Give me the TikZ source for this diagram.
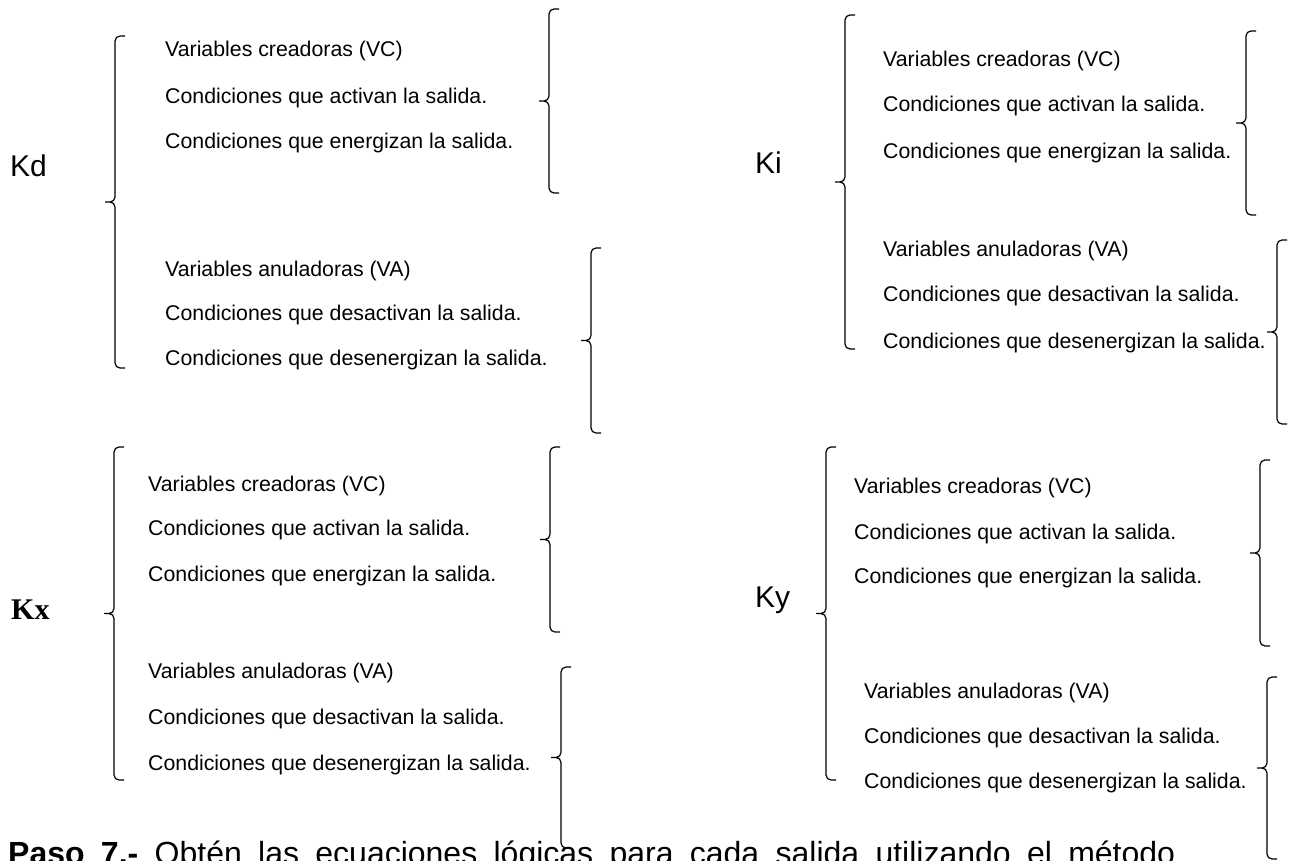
\documentclass[tikz,border=0pt]{standalone}
\usepackage{fontspec}
\setmainfont{Liberation Sans}
\newfontfamily\fuenteserif{Liberation Serif}
\usetikzlibrary{positioning}
\tikzstyle{texto} = [anchor=base west, inner sep=0pt, font=\fontsize{21.3}{25}\selectfont]
\tikzstyle{etiqueta} = [anchor=base west, inner sep=0pt, font=\fontsize{30}{36}\selectfont]
\tikzstyle{llave} = [line width=1.2pt, rounded corners=5pt]
% llave: x, arriba, abajo
\newcommand{\llave}[3]{%
  \draw[llave] ({#1+10},#2) -- (#1,#2) -- (#1,{(#2+#3)/2}) -- ({#1-10},{(#2+#3)/2})
               ({#1-10},{(#2+#3)/2}) -- (#1,{(#2+#3)/2}) -- (#1,#3) -- ({#1+10},#3);}

\begin{document}
\begin{tikzpicture}[x=1pt, y=-1pt]
    \useasboundingbox (0,0) rectangle (1294,860);

    % Kd
    \node[etiqueta] (kd) at (10,176) {Kd};
    \llave{115}{36}{368}
    \node[texto] (kdc1) at (165,56) {Variables creadoras (VC)};
    \node[texto] (kdc2) at (165,103) {Condiciones que activan la salida.};
    \node[texto] (kdc3) at (165,148) {Condiciones que energizan la salida.};
    \llave{549}{9}{193}
    \node[texto] (kda1) at (165,276) {Variables anuladoras (VA)};
    \node[texto] (kda2) at (165,320) {Condiciones que desactivan la salida.};
    \node[texto] (kda3) at (165,365) {Condiciones que desenergizan la salida.};
    \llave{591}{248}{433}

    % Ki
    \node[etiqueta] (ki) at (755,173) {Ki};
    \llave{845}{15}{349}
    \node[texto] (kic1) at (883,66) {Variables creadoras (VC)};
    \node[texto] (kic2) at (883,111) {Condiciones que activan la salida.};
    \node[texto] (kic3) at (883,158) {Condiciones que energizan la salida.};
    \llave{1246}{31}{215}
    \node[texto] (kia1) at (883,256) {Variables anuladoras (VA)};
    \node[texto] (kia2) at (883,301) {Condiciones que desactivan la salida.};
    \node[texto] (kia3) at (883,348) {Condiciones que desenergizan la salida.};
    \llave{1277}{240}{424}

    % Kx
    \node[etiqueta, font=\fuenteserif\bfseries\fontsize{30}{34}\selectfont] (kx) at (11,619) {Kx};
    \llave{114}{447}{780}
    \node[texto] (kxc1) at (148,491) {Variables creadoras (VC)};
    \node[texto] (kxc2) at (148,535) {Condiciones que activan la salida.};
    \node[texto] (kxc3) at (148,581) {Condiciones que energizan la salida.};
    \llave{550}{447}{632}
    \node[texto] (kxa1) at (148,678) {Variables anuladoras (VA)};
    \node[texto] (kxa2) at (148,724) {Condiciones que desactivan la salida.};
    \node[texto] (kxa3) at (148,770) {Condiciones que desenergizan la salida.};
    \llave{561}{667}{848}

    % Ky
    \node[etiqueta] (ky) at (755,607) {Ky};
    \llave{826}{447}{780}
    \node[texto] (kyc1) at (854,493) {Variables creadoras (VC)};
    \node[texto] (kyc2) at (854,539) {Condiciones que activan la salida.};
    \node[texto] (kyc3) at (854,583) {Condiciones que energizan la salida.};
    \llave{1260}{460}{646}
    \node[texto] (kya1) at (864,698) {Variables anuladoras (VA)};
    \node[texto] (kya2) at (864,743) {Condiciones que desactivan la salida.};
    \node[texto] (kya3) at (864,788) {Condiciones que desenergizan la salida.};
    \llave{1267}{677}{859}

    \node[anchor=base west, inner sep=0pt, font=\fontsize{32}{38}\selectfont] (paso) at (8,864)
        {\makebox[1167pt][s]{\textbf{Paso 7.-} Obtén las ecuaciones lógicas para cada salida utilizando el método}};
\end{tikzpicture}
\end{document}
